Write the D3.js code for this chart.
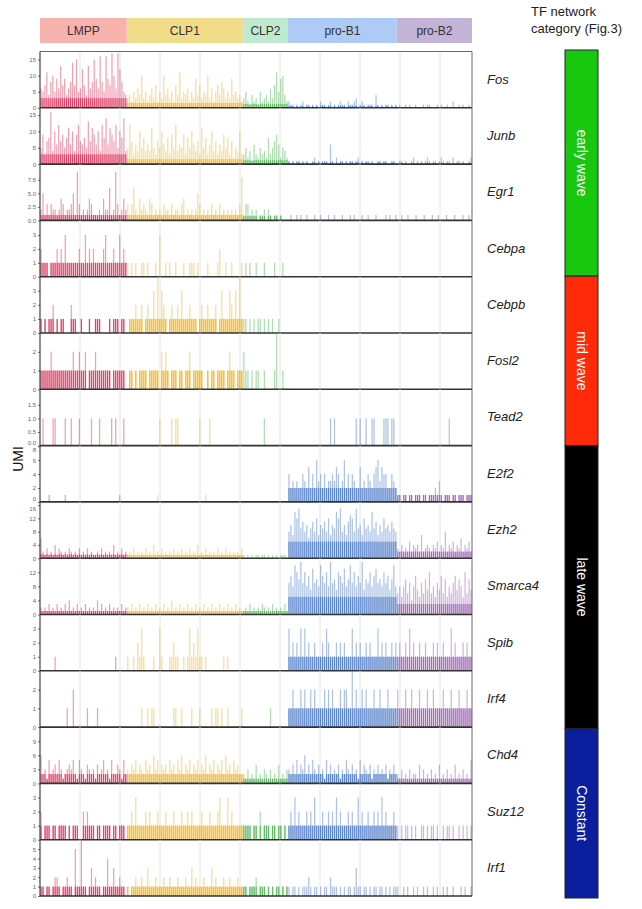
<!DOCTYPE html>
<html>
<head>
<meta charset="utf-8">
<script src="https://cdn.jsdelivr.net/npm/d3@7"></script>
<style>
  html, body { margin: 0; padding: 0; background: #fff; }
  svg { display: block; font-family: "Liberation Sans", Arial, Helvetica, sans-serif; }
</style>
</head>
<body>
<svg id="chart" width="642" height="909"></svg>
<script>
// ---------------- DATA ----------------
const groups = ["LMPP", "CLP1", "CLP2", "pro-B1", "pro-B2"];
const groupCells = [217, 290, 113, 272, 188];            // cells per population
const groupBarColors = ["#d51f4b", "#eeaa00", "#3fae46", "#3a6cc2", "#8e4daa"];
const groupHeaderColors = ["#f7b2ae", "#f1dc89", "#bfeacf", "#aecbf6", "#c3b3d6"];

const genes = ["Fos", "Junb", "Egr1", "Cebpa", "Cebpb", "Fosl2", "Tead2", "E2f2",
               "Ezh2", "Smarca4", "Spib", "Irf4", "Chd4", "Suz12", "Irf1"];
const yMax = [17.5, 17.2, 10.4, 4.05, 4.0, 3.0, 2.07, 8.1, 17.0, 16.0, 4.0, 3.0, 12.0, 4.0, 6.0];
const yTickValues = [[0,5,10,15],[0,5,10,15],[0,2.5,5,7.5],[0,1,2,3],[0,1,2,3],[0,1,2],
                     [0,0.5,1,1.5],[0,2,4,6,8],[0,4,8,12,16],[0,4,8,12],[0,1,2,3],[0,1,2],
                     [0,3,6,9],[0,1,2,3],[0,1,2,3,4,5]];
const yTickFormats = ["d","d",".1f","d","d","d",".1f","d","d","d","d","d","d","d","d"];

// UMI per cell bin (base-36 digits: 0-9, a=10 ... h=17); one string per population
const umi_Fos = ["657b48a596d79468e7f56c74d68f96g85g97ha6hc854",
  "3425364a3524637253a4635274b3546253947354a36257486353945342",
  "3521423152342637b59a42",
  "2110101201101010211012010121102112301210111041010110101",
  "01001010010001011000101001002001010010"];
const umi_Junb = ["59378g4a6c7958b6a49c7685d7b96a4c8e6b97c5a8e4",
  "5c7364a58464b5375a648395c4659385a6473b5836a4736495837254a3",
  "3524163253428357962542",
  "1010110101001201011106102011010110120101101001101100110",
  "01101001201010121011012101102011010012"];
const umi_Egr1 = ["2513132212431223519312124311121422612931242",
  "3136214232143121213221312213412121253121213121312121212138",
  "1331212011202101101000",
  "0100101001000100100010010001000101000100100010000101001",
  "0010010001000100010010001000100010010"];
const umi_Cebpa = ["2111011121213111111211312121111231112113121",
  "1010100110100010300101001000100111010000100001200100100001",
  "0101001000100001000100",
  "0", "0"];
const umi_Cebpb = ["1010112010110002110010001001110000101110110",
  "0111211201211314132101211213111211101211211120131113213141",
  "1101010110101010010000",
  "0", "0"];
const umi_Fosl2 = ["1111121111111111211211201112111111101111110",
  "0110101111011111021210111011011201111100101101111012110111",
  "2110101100100001300100",
  "0", "0"];
const umi_Tead2 = ["0100001100001001000100000100010000010100010",
  "0000000000000000100000101100000000001000010000000000000000",
  "0000000000100000000000",
  "0000000000000000000001010000000000101001001100001110110",
  "00000000000000000000000000100000000000"];
const umi_E2f2 = ["0000100000001000000000000000000000000001000",
  "0000000000000001000000000000000000000001000000000000000000",
  "0000000000000000000000",
  "4232322432524263424233435423624243225232432456354422432",
  "11011011011101101112131011101101110111"];
const umi_Ezh2 = ["6213121413212132121312131211213121214121312",
  "1213121213121412131212131213121312141213121213121312121213",
  "1010101101101010101110",
  "8a7ecf9b8a69b8c7a9b8c7a9ecf8a7bdc8f9a7c9a8e9b7a8c9a8b98",
  "32423252434272343243524382435243624352"];
const umi_Smarca4 = ["2121312131213141213121312121413121312121312",
  "2131213121312131213121412131213121312131213121312131213121",
  "1213121213212131212131",
  "9b8ecaf9c8b7d9a8eb9c8f9a7cb9d8ae9c8b9f7a9c8bd9a8c9b7ae8",
  "6858a6948b7596a7c68597b6a5869b7a85c6a7"];
const umi_Spib = ["0000000100000000000000000000000000000100000",
  "1001021310000100310001121100101312131101000000001010000000",
  "0000000000000000000000",
  "3121213131211211121321112121211131212112121113121211212",
  "12112131211211211121211211131211121211"];
const umi_Irf4 = ["0000000000000100200000010000100000000000000",
  "0000000100101100000000011001000010001000001011010010000001",
  "0000000000000100000000",
  "1121112121121211112121211121221131211212111211211121111",
  "21112112111211121121111211121112111211"];
const umi_Chd4 = ["6231523425312343521532143231423523152243152",
  "3243524325342635243425342536243524352436243524352634253422",
  "2131214121321312141213",
  "3242524362425324231524232413253242315243241324232413242",
  "21312131221413121312141213121412131215"];
const umi_Suz12 = ["2011101101111010111002121110110111101101110",
  "1121311112121112111211121112112121111211121112311131211111",
  "1111011020111011011010",
  "1213121112121311121121213121112121131211211212131211121",
  "10101101010011010110100101101001010101"];
const umi_Irf1 = ["1101101221011211051161101312110114113112110",
  "1011211211311121112112111211121131211121113121112112111211",
  "1101112011101010110101",
  "1011010111210110101102111010101101311011010110110101011",
  "10010100101001010010100101001000101001"];
const umiStrings = [umi_Fos, umi_Junb, umi_Egr1, umi_Cebpa, umi_Cebpb, umi_Fosl2, umi_Tead2,
  umi_E2f2, umi_Ezh2, umi_Smarca4, umi_Spib, umi_Irf4, umi_Chd4, umi_Suz12, umi_Irf1];

// typical (dense) expression level per population, drawn as darker base
const denseLevel = [[3,1.5,1.2,0.6,0.3],[3,1.5,1.2,0.6,0.4],[1,1,0.8,0,0],[1,0,0,0,0],[1,1,0,0,0],
  [1,1,0,0,0],[0,0,0,0,0],[0,0,0,2,1],[1.2,1,0,5,2],[1,1,1,5,3],[0,0,0,1,1],[0,0,0,1,1],
  [2,2,1,2,1],[1,1,1,1,0],[1,1,1,0,0]];

const catNames = ["early wave", "mid wave", "late wave", "Constant"];
const catGeneCounts = [4, 3, 5, 3];
const catColors = ["#17c80e", "#ff2a08", "#000000", "#0a1e9e"];

// ---------------- LAYOUT ----------------
const svg = d3.select("#chart");
const totalCells = d3.sum(groupCells);
const plotLeft = 40, plotRight = 472;
const top0 = 51.5, panelH = 56.3;
const x = d3.scaleLinear().domain([0, totalCells]).range([plotLeft, plotRight]);
const groupStart = groupCells.map((c, i) => d3.sum(groupCells.slice(0, i)));

// header
const header = svg.append("g");
groups.forEach((g, i) => {
  const x0 = x(groupStart[i]), x1 = x(groupStart[i] + groupCells[i]);
  header.append("rect").attr("x", x0).attr("y", 18).attr("width", x1 - x0).attr("height", 25)
    .attr("fill", groupHeaderColors[i]);
  header.append("text").attr("x", (x0 + x1) / 2).attr("y", 35).attr("text-anchor", "middle")
    .attr("font-size", 12).attr("fill", "#333").text(g);
});

const decode = ch => parseInt(ch, 36);

genes.forEach((gene, gi) => {
  const py0 = top0 + gi * panelH, py1 = py0 + panelH;
  const y = d3.scaleLinear().domain([0, yMax[gi]]).range([py1, py0]);
  const p = svg.append("g");

  // grid lines
  p.selectAll("line.grid").data(d3.range(100, totalCells, 100)).enter().append("line")
    .attr("x1", d => x(d)).attr("x2", d => x(d)).attr("y1", py0).attr("y2", py1)
    .attr("stroke", "#e4e4e4").attr("stroke-width", 1);

  // bars
  groups.forEach((g, k) => {
    const s = umiStrings[gi][k];
    const L = s.length;
    const n = groupCells[k];
    const bins = s.split("").map((ch, i) => ({v: decode(ch), c: groupStart[k] + (i + 0.5) * n / L}));
    const w = Math.max(0.9, (x(n / L) - x(0)) * 0.62);
    const col = groupBarColors[k];
    const base = denseLevel[gi][k];
    p.selectAll(null).data(bins.filter(b => b.v > 0)).enter().append("rect")
      .attr("x", d => x(d.c) - w / 2).attr("width", w)
      .attr("y", d => y(d.v)).attr("height", d => y(0) - y(d.v))
      .attr("fill", col).attr("opacity", 0.42);
    if (base > 0) {
      p.selectAll(null).data(bins.filter(b => b.v > 0)).enter().append("rect")
        .attr("x", d => x(d.c) - w / 2).attr("width", w)
        .attr("y", d => y(Math.min(d.v, base))).attr("height", d => y(0) - y(Math.min(d.v, base)))
        .attr("fill", col).attr("opacity", 0.7);
    }
  });

  // y axis
  const ax = p.append("g").attr("transform", `translate(${plotLeft},0)`)
    .call(d3.axisLeft(y).tickValues(yTickValues[gi]).tickSize(2).tickPadding(2)
      .tickFormat(d3.format(yTickFormats[gi])));
  ax.select(".domain").remove();
  ax.selectAll("text").attr("font-size", 6).attr("fill", "#666");
  ax.selectAll("line").attr("stroke", "#666");
  // keep labels at shared panel edges from colliding
  ax.selectAll(".tick text").attr("dy", function(d) {
    const yy = y(d);
    if (yy - py0 < 4) return "0.95em";                                         // top label
    if (d === 0 && gi < genes.length - 1) {
      const nextTop = yTickValues[gi + 1][yTickValues[gi + 1].length - 1];
      if (nextTop / yMax[gi + 1] > 0.93) return "-0.2em";                      // zero label
    }
    return "0.32em";
  });

  // frame lines
  p.append("line").attr("x1", plotLeft).attr("x2", plotLeft).attr("y1", py0).attr("y2", py1)
    .attr("stroke", "#444").attr("stroke-width", 1.2);
  p.append("line").attr("x1", plotRight).attr("x2", plotRight).attr("y1", py0).attr("y2", py1)
    .attr("stroke", "#666").attr("stroke-width", 1);
  p.append("line").attr("x1", plotLeft).attr("x2", plotRight).attr("y1", py1).attr("y2", py1)
    .attr("stroke", "#333").attr("stroke-width", 1.6);

  // gene label
  svg.append("text").attr("x", 487).attr("y", (py0 + py1) / 2 + 4).attr("font-size", 13)
    .attr("font-style", "italic").attr("fill", "#222").text(gene);
});
// top border
svg.append("line").attr("x1", plotLeft).attr("x2", plotRight).attr("y1", top0).attr("y2", top0)
  .attr("stroke", "#666").attr("stroke-width", 1);

// UMI label
svg.append("text").attr("transform", "translate(23,459) rotate(-90)").attr("text-anchor", "middle")
  .attr("font-size", 14).attr("fill", "#111").text("UMI");

// category legend
svg.append("text").attr("x", 531).attr("y", 16).attr("font-size", 13).attr("fill", "#222").text("TF network");
svg.append("text").attr("x", 531).attr("y", 33).attr("font-size", 13).attr("fill", "#222").text("category (Fig.3)");
const barY = d3.scaleLinear().domain([0, genes.length]).range([50, 898]);
let acc = 0;
catNames.forEach((nm, i) => {
  const ya = barY(acc), yb = barY(acc + catGeneCounts[i]);
  svg.append("rect").attr("x", 565).attr("y", ya).attr("width", 33).attr("height", yb - ya)
    .attr("fill", catColors[i]).attr("stroke", "#222").attr("stroke-width", 1);
  svg.append("text").attr("transform", `translate(${581.5},${(ya + yb) / 2}) rotate(90)`)
    .attr("text-anchor", "middle").attr("dy", "0.35em").attr("font-size", 14).attr("fill", "#fff").text(nm);
  acc += catGeneCounts[i];
});
</script>
</body>
</html>
